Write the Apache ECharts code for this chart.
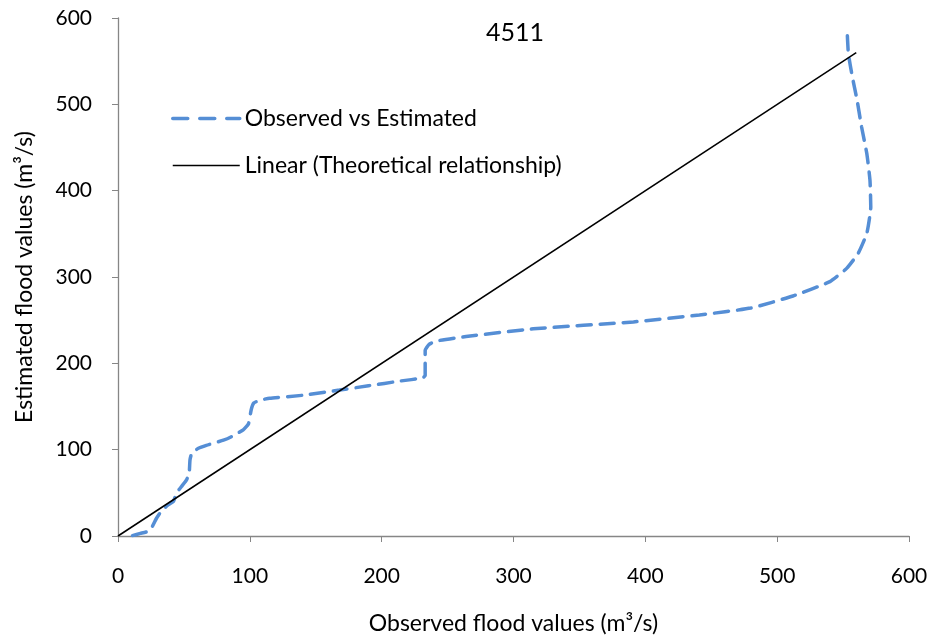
<!DOCTYPE html>
<html>
<head>
<meta charset="utf-8">
<script src="https://cdn.jsdelivr.net/npm/echarts@6/dist/echarts.min.js"></script>
<style>
  html, body { margin: 0; padding: 0; background: #fff; }
  #chart { width: 932px; height: 639px; }
</style>
</head>
<body>
<div id="chart"></div>
<script>
// Station 4511: observed vs estimated flood values (m3/s)
const obsX = [11, 17, 22, 26, 29, 33, 38, 42, 44.5, 48, 52, 54, 54.6, 56, 61, 67, 80, 86, 95, 99,
  101, 103, 108, 115, 140, 168, 190, 214, 231, 233, 233, 233, 236, 242, 264, 315, 391, 441, 480, 512,
  540, 552.7, 561.5, 568, 571, 570.4, 568, 564, 560.6, 557, 554, 553];
const estY = [0.5, 3, 5, 11, 20, 29, 36, 40, 50, 57, 65, 73, 88, 96, 101.6, 105, 111, 115, 123, 130,
  146, 154, 157.5, 159.5, 163, 169, 174, 179.5, 183, 186, 205, 215, 222, 226, 231, 240, 248, 256, 264, 278,
  294.6, 310, 327.5, 350.6, 381, 412, 443, 474, 505, 532, 559, 588];

// Theoretical 1:1 relationship
const lineX = [0, 560];
const lineY = [0, 560];

const axisTicks = { min: 0, max: 600, interval: 100 };

const font = 'Lato, "Open Sans", sans-serif';
const blue = '#558ed5';

const chart = echarts.init(document.getElementById('chart'), null, { renderer: 'canvas' });
chart.setOption({
  animation: false,
  title: {
    text: '4511',
    left: 510, top: 15, textAlign: 'center',
    textStyle: { fontFamily: font, fontSize: 25, fontWeight: 'normal', color: '#000' }
  },
  legend: {
    orient: 'vertical',
    left: 166, top: 102,
    itemWidth: 67, itemHeight: 14, itemGap: 24,
    itemStyle: { opacity: 0 },
    textStyle: { fontFamily: font, fontSize: 23, color: '#000' },
    data: [
      { name: 'Observed vs Estimated', lineStyle: { color: blue, width: 3.5, type: [15, 12] } },
      { name: 'Linear (Theoretical relationship)', lineStyle: { color: '#000', width: 1.5 } }
    ]
  },
  grid: { left: 118, right: 23, top: 18, bottom: 103, containLabel: false, outerBoundsMode: 'none' },
  xAxis: {
    type: 'value', min: axisTicks.min, max: axisTicks.max, interval: axisTicks.interval,
    name: 'Observed flood values (m³/s)',
    nameLocation: 'middle', nameGap: 76,
    nameTextStyle: { fontFamily: font, fontSize: 23, color: '#000' },
    axisLine: { show: true, lineStyle: { color: '#868686', width: 1.3 } },
    axisTick: { show: true, inside: false, length: 6, lineStyle: { color: '#868686' } },
    axisLabel: { margin: 30, fontFamily: font, fontSize: 21, color: '#000' },
    splitLine: { show: false }
  },
  yAxis: {
    type: 'value', min: axisTicks.min, max: axisTicks.max, interval: axisTicks.interval,
    name: 'Estimated flood values (m³/s)',
    nameLocation: 'middle', nameGap: 82, nameRotate: 90,
    nameTextStyle: { fontFamily: font, fontSize: 23, color: '#000' },
    axisLine: { show: true, lineStyle: { color: '#868686', width: 1.3 } },
    axisTick: { show: true, inside: false, length: 6, lineStyle: { color: '#868686' } },
    axisLabel: { margin: 26, fontFamily: font, fontSize: 21, color: '#000' },
    splitLine: { show: false }
  },
  series: [
    {
      name: 'Observed vs Estimated',
      type: 'line',
      data: obsX.map((x, i) => [x, estY[i]]),
      showSymbol: false, symbol: 'none',
      smooth: 0.15,
      lineStyle: { color: blue, width: 3.5, type: [14, 9], cap: 'round' },
      itemStyle: { color: blue }
    },
    {
      name: 'Linear (Theoretical relationship)',
      type: 'line',
      data: lineX.map((x, i) => [x, lineY[i]]),
      showSymbol: false, symbol: 'none',
      lineStyle: { color: '#000', width: 1.5 },
      itemStyle: { color: '#000' }
    }
  ]
});
</script>
</body>
</html>
